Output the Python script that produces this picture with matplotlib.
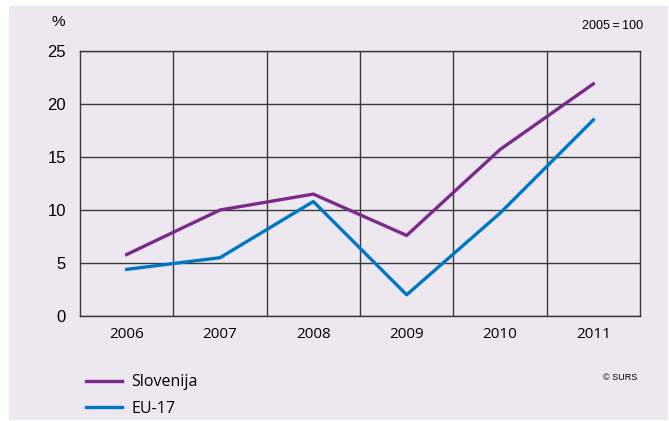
import matplotlib.pyplot as plt
from matplotlib.patches import Rectangle

years = ["2006", "2007", "2008", "2009", "2010", "2011"]
slovenija = [5.8, 10.0, 11.5, 7.6, 15.7, 21.9]
eu17 = [4.4, 5.5, 10.8, 2.0, 9.7, 18.5]

bg = "#ede8f0"
grid_c = "#3a3a3a"

fig = plt.figure(figsize=(6.69, 4.21), dpi=100)
fig.patch.set_facecolor("white")
fig.patches.append(Rectangle((9 / 669, 1 / 421), 659 / 669, 414 / 421,
                             transform=fig.transFigure, facecolor=bg,
                             edgecolor="none", zorder=-10))

ax = fig.add_axes([80 / 669, 1 - 316 / 421, 560 / 669, 265 / 421])
ax.set_facecolor(bg)
x = list(range(len(years)))
ax.plot(x, slovenija, color="#7a2a8a", lw=2.4, label="Slovenija", zorder=3)
ax.plot(x, eu17, color="#0077c2", lw=2.4, label="EU-17", zorder=3)

ax.set_xlim(-0.5, 5.5)
ax.set_ylim(0, 25)
ax.set_yticks([0, 5, 10, 15, 20, 25])
# vertical grid lines sit between the years
ax.set_xticks([i + 0.5 for i in x[:-1]], minor=False)
ax.set_xticklabels([])
ax.set_xticks(x, minor=True)
ax.set_xticklabels(years, minor=True, fontsize=11, family="Open Sans")
ax.tick_params(axis="x", which="both", length=0, pad=8)
ax.tick_params(axis="y", length=0, pad=10, labelsize=12)
for lbl in ax.get_yticklabels():
    lbl.set_family("Liberation Sans")
ax.grid(True, which="major", color=grid_c, lw=1)
for s in ax.spines.values():
    s.set_color(grid_c)
    s.set_linewidth(1)

fig.text(58 / 669, 1 - 22 / 421, "%", fontsize=11, family="Liberation Sans",
         ha="center", va="center")
fig.text(643 / 669, 1 - 26 / 421, "2005\u2009=\u2009100", fontsize=9,
         family=["Liberation Sans", "DejaVu Sans"], ha="right", va="center")
fig.text(637 / 669, 1 - 377 / 421, "© SURS", fontsize=6.5, family="Liberation Sans",
         ha="right", va="center")

fig.legend(loc="upper left", bbox_to_anchor=(72 / 669, 1 - 360 / 421),
           frameon=False, handlelength=2.2, handletextpad=0.6,
           labelspacing=0.65, prop={"family": "Open Sans", "size": 11.5})

fig.savefig("out.png", dpi=100, facecolor="white")
